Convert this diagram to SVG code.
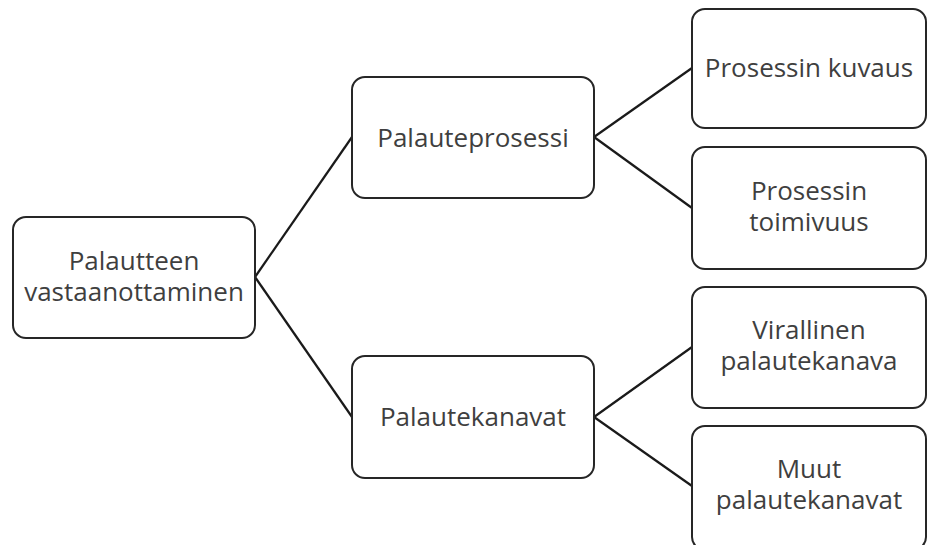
<svg xmlns="http://www.w3.org/2000/svg" width="927" height="545" viewBox="0 0 927 545">
  <style>
    .box { fill: #ffffff; stroke: #262626; stroke-width: 2; }
    .lbl { font-family: "Open Sans", "Noto Sans", "DejaVu Sans", sans-serif; font-size: 26px; fill: #3f3f3f; text-anchor: middle; }
    .edge { stroke: #1a1a1a; stroke-width: 2.2; fill: none; }
  </style>
  <rect width="927" height="545" fill="#ffffff"/>

  <!-- tree connectors -->
  <g id="connectors">
    <line class="edge" x1="255" y1="277" x2="352" y2="137"/>
    <line class="edge" x1="255" y1="277" x2="352" y2="417"/>
    <line class="edge" x1="594" y1="137" x2="692" y2="68"/>
    <line class="edge" x1="594" y1="137" x2="692" y2="208"/>
    <line class="edge" x1="594" y1="417" x2="692" y2="347"/>
    <line class="edge" x1="594" y1="417" x2="692" y2="486"/>
  </g>

  <!-- root -->
  <g id="node-root">
    <rect class="box" x="13" y="217" width="242" height="121" rx="13"/>
    <text class="lbl" x="134" y="269.5">Palautteen</text>
    <text class="lbl" x="134" y="300.5">vastaanottaminen</text>
  </g>

  <!-- second level -->
  <g id="node-prosessi">
    <rect class="box" x="352" y="77" width="242" height="121" rx="13"/>
    <text class="lbl" x="473" y="147">Palauteprosessi</text>
  </g>
  <g id="node-kanavat">
    <rect class="box" x="352" y="356" width="242" height="122" rx="13"/>
    <text class="lbl" x="473" y="426">Palautekanavat</text>
  </g>

  <!-- third level -->
  <g id="node-kuvaus">
    <rect class="box" x="692" y="9" width="234" height="119" rx="13"/>
    <text class="lbl" x="809" y="77">Prosessin kuvaus</text>
  </g>
  <g id="node-toimivuus">
    <rect class="box" x="692" y="147" width="234" height="122" rx="13"/>
    <text class="lbl" x="809" y="199.5">Prosessin</text>
    <text class="lbl" x="809" y="230.5">toimivuus</text>
  </g>
  <g id="node-virallinen">
    <rect class="box" x="692" y="287" width="234" height="121" rx="13"/>
    <text class="lbl" x="809" y="339">Virallinen</text>
    <text class="lbl" x="809" y="370">palautekanava</text>
  </g>
  <g id="node-muut">
    <rect class="box" x="692" y="426" width="234" height="124" rx="13"/>
    <text class="lbl" x="809" y="477.5">Muut</text>
    <text class="lbl" x="809" y="508.5">palautekanavat</text>
  </g>
</svg>
